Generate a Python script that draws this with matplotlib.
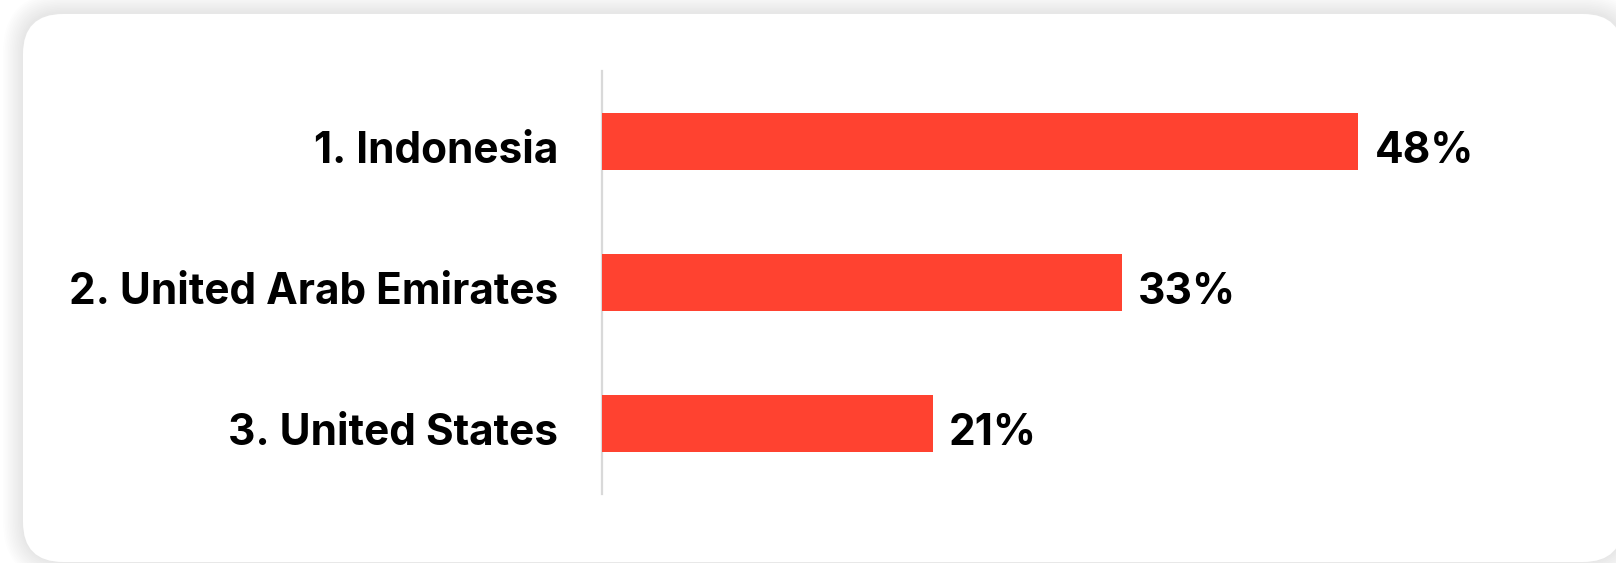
import matplotlib
matplotlib.use("Agg")
from matplotlib import pyplot as plt
from matplotlib.patches import FancyBboxPatch
from matplotlib import transforms

countries = ["1. Indonesia", "2. United Arab Emirates", "3. United States"]
shares = [48, 33, 21]
share_labels = ["48%", "33%", "21%"]

bar_color = "#ff4230"
W, H = 1616, 563

fig = plt.figure(figsize=(W / 100, H / 100), dpi=100, facecolor="white")

# card with soft shadow (pixel coords)
n = 12
for i in range(n):
    grow = 20 * (1 - i / n)
    fig.patches.append(FancyBboxPatch(
        (23 - grow, 2 - grow), 1600 + 2 * grow, H - 15 + 2 * grow,
        boxstyle="round,pad=0,rounding_size=%d" % (40 + grow),
        transform=None, facecolor="#000000", edgecolor="none", alpha=0.006, zorder=0))
fig.patches.append(FancyBboxPatch(
    (23, 1), 1600, H - 15, boxstyle="round,pad=0,rounding_size=40",
    transform=None, facecolor="white", edgecolor="none", zorder=1))

# axes: zero at x=602, 15.76 px per percentage point
x0, px_per = 602, 15.76
ax_w = 1000
ax = fig.add_axes([x0 / W, (H - 494) / H, ax_w / W, 423 / H])
ax.set_zorder(2)
ax.patch.set_visible(False)
ax.set_xlim(0, ax_w / px_per)
ax.set_ylim(2.5, -0.5)

y = list(range(len(countries)))
ax.barh(y, shares, height=0.4, color=bar_color, zorder=3)

for s in ["top", "right", "bottom"]:
    ax.spines[s].set_visible(False)
ax.spines["left"].set_color("#d9d9d9")
ax.spines["left"].set_linewidth(1.6)
ax.set_xticks([])
ax.set_yticks([])

font = dict(family=["Inter", "DejaVu Sans"], fontweight="bold", fontsize=30.5, color="black")
base = transforms.offset_copy(ax.transData, fig=fig, x=0, y=-21, units="dots")
for yi, name in zip(y, countries):
    lt = transforms.offset_copy(base, fig=fig, x=-44, y=0, units="dots")
    ax.text(0, yi, name, ha="right", va="baseline", transform=lt, **font)
for yi, v, lab in zip(y, shares, share_labels):
    rt = transforms.offset_copy(base, fig=fig, x=16, y=0, units="dots")
    ax.text(v, yi, lab, ha="left", va="baseline", transform=rt, **font)

fig.savefig("out.png", dpi=100, facecolor="white")
